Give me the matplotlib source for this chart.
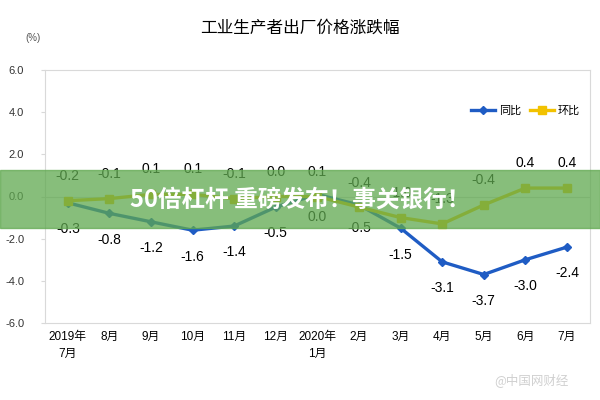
import matplotlib.pyplot as plt
from matplotlib.patches import Rectangle

plt.rcParams['font.family'] = ['Liberation Sans', 'Noto Sans CJK SC', 'DejaVu Sans']

months = ["2019年\n7月", "8月", "9月", "10月", "11月", "12月", "2020年\n1月",
          "2月", "3月", "4月", "5月", "6月", "7月"]
yoy = [-0.3, -0.8, -1.2, -1.6, -1.4, -0.5, 0.1, -0.4, -1.5, -3.1, -3.7, -3.0, -2.4]
mom = [-0.2, -0.1, 0.1, 0.1, -0.1, 0.0, 0.0, -0.5, -1.0, -1.3, -0.4, 0.4, 0.4]

blue = "#1f5cc4"
yellow = "#f2c200"

fig = plt.figure(figsize=(6, 4), dpi=100)
ax = fig.add_axes([0.075, 0.1925, 0.908, 0.6325])
x = range(len(months))

ax.axhline(0, color="#d9d9d9", lw=0.8, zorder=0)
ax.plot(x, yoy, color=blue, lw=2.4, marker="D", ms=4, label="同比")
ax.plot(x, mom, color=yellow, lw=2.4, marker="s", ms=6, label="环比")

# labels: 环比 above, 同比 below (swapped at 2020-01 and 2020-02)
for i in x:
    up_yoy = i in (6, 7)
    ax.annotate(f"{yoy[i]:.1f}", (i, yoy[i]), xytext=(0, 16 if up_yoy else -19),
                textcoords="offset points", ha="center", va="center", fontsize=10)
    ax.annotate(f"{mom[i]:.1f}", (i, mom[i]), xytext=(0, -15 if up_yoy else 18),
                textcoords="offset points", ha="center", va="center", fontsize=10)

ax.set_xlim(-0.55, 12.55)
ax.set_ylim(-6, 6)
ax.set_yticks([6, 4, 2, 0, -2, -4, -6])
ax.set_yticklabels([f"{v:.1f}" for v in [6, 4, 2, 0, -2, -4, -6]])
ax.set_xticks(list(x))
ax.set_xticklabels(months, fontsize=8.5, va="top", linespacing=1.5)
ax.tick_params(axis="x", length=0, pad=6)
ax.tick_params(axis="y", length=3, color="#d9d9d9", labelsize=8, pad=12, labelcolor="#333333")
for s in ax.spines.values():
    s.set_color("#d9d9d9")
ax.legend(loc="upper right", bbox_to_anchor=(1.0, 0.9), ncol=2, frameon=False,
          fontsize=8, handlelength=2.2, columnspacing=0.8, handletextpad=0.3)

fig.text(0.5, 0.93, "工业生产者出厂价格涨跌幅", ha="center", va="center", fontsize=12)
fig.text(0.055, 0.905, "(%)", ha="center", va="center", fontsize=7, color="#555555")

# overlay banner and watermark
fig.patches.append(Rectangle((0, 0.43), 1, 0.145, transform=fig.transFigure,
                             color="#5fa84f", alpha=0.75, zorder=5))
fig.text(0.5, 0.5, "50倍杠杆 重磅发布！事关银行！", ha="center", va="center",
         fontsize=17, fontweight="bold", color="white", zorder=6,
         family=["Noto Sans CJK SC", "DejaVu Sans"])
fig.text(0.885, 0.05, "@中国网财经", ha="center", va="center", fontsize=9,
         color="#d0d0d0", family=["Noto Sans CJK SC", "DejaVu Sans"])

fig.savefig("out.png", dpi=100)
